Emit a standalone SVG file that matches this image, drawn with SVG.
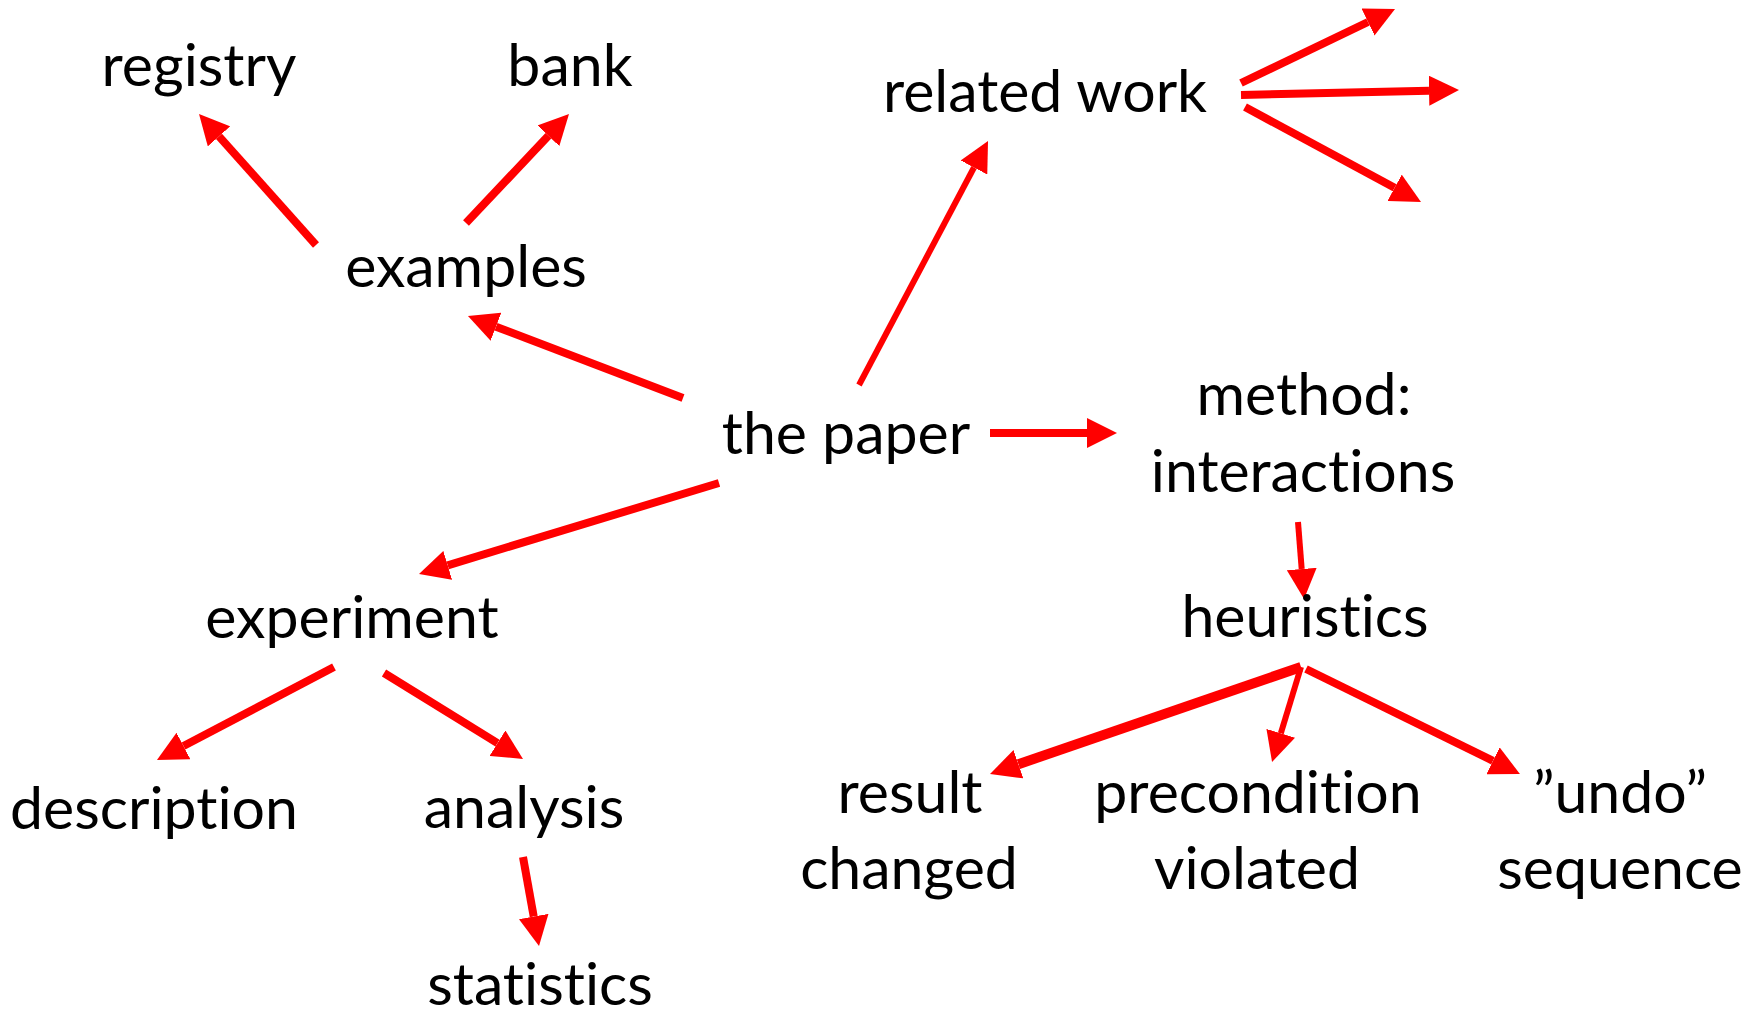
<svg xmlns="http://www.w3.org/2000/svg" width="1761" height="1018" viewBox="0 0 1761 1018">
  <style>
    .lbl { font-family: Lato, "Open Sans", "Liberation Sans", sans-serif; font-size: 59px; fill: #000; text-anchor: middle; font-variant-ligatures: none; font-feature-settings: "liga" 0, "clig" 0; }
    .edge { stroke: #ff0000; stroke-width: 8; fill: none; marker-end: url(#head); }
  </style>
  <defs>
    <marker id="head" viewBox="0 0 30 30" markerWidth="30" markerHeight="30" refX="0" refY="15" orient="auto" markerUnits="userSpaceOnUse">
      <path d="M0,0 L30,15 L0,30 Z" fill="#ff0000"/>
    </marker>
  </defs>
  <rect width="1761" height="1018" fill="#fff"/>

  <g id="connectors">
    <line class="edge" x1="316" y1="245" x2="219" y2="136.4"/>
    <line class="edge" x1="466" y1="223" x2="548.4" y2="135.8"/>
    <line class="edge" x1="683" y1="398" x2="496" y2="326.7"/>
    <line class="edge" x1="859" y1="385" x2="974" y2="167.5" style="stroke-width:6"/>
    <line class="edge" x1="1241" y1="83" x2="1368" y2="22"/>
    <line class="edge" x1="1241" y1="95" x2="1429" y2="90.7"/>
    <line class="edge" x1="1245" y1="107" x2="1394.6" y2="187.8"/>
    <line class="edge" x1="990" y1="433" x2="1087" y2="433"/>
    <line class="edge" x1="719" y1="483" x2="447.7" y2="565.3"/>
    <line class="edge" x1="334" y1="667" x2="183.5" y2="746"/>
    <line class="edge" x1="384" y1="673" x2="497.5" y2="743.2"/>
    <line class="edge" x1="523" y1="857" x2="533.7" y2="916.5"/>
    <line class="edge" x1="1298" y1="522" x2="1301.7" y2="569" style="stroke-width:6"/>
    <line class="edge" x1="1301" y1="667" x2="1018.4" y2="764.2" style="stroke-width:10"/>
    <line class="edge" x1="1301" y1="667" x2="1280.8" y2="733.3" style="stroke-width:6"/>
    <line class="edge" x1="1306" y1="669" x2="1493" y2="760.8"/>
  </g>

  <g id="registry"><text class="lbl" x="199" y="86">registry</text></g>
  <g id="bank"><text class="lbl" x="570" y="86">bank</text></g>
  <g id="examples"><text class="lbl" x="466" y="287">examples</text></g>
  <g id="related-work"><text class="lbl" x="1045" y="112">related work</text></g>
  <g id="the-paper"><text class="lbl" x="846" y="454">the paper</text></g>
  <g id="method"><text class="lbl" x="1304" y="415">method:</text><text class="lbl" x="1303" y="492">interactions</text></g>
  <g id="experiment"><text class="lbl" x="352" y="638">experiment</text></g>
  <g id="description"><text class="lbl" x="154" y="829">description</text></g>
  <g id="analysis"><text class="lbl" x="524" y="828">analysis</text></g>
  <g id="statistics"><text class="lbl" x="540" y="1005">statistics</text></g>
  <g id="heuristics"><text class="lbl" x="1305" y="637">heuristics</text></g>
  <g id="result-changed"><text class="lbl" x="910" y="813">result</text><text class="lbl" x="909" y="889">changed</text></g>
  <g id="precondition-violated"><text class="lbl" x="1258" y="813">precondition</text><text class="lbl" x="1257" y="889">violated</text></g>
  <g id="undo-sequence"><text class="lbl" x="1620" y="813">”undo”</text><text class="lbl" x="1620" y="889">sequence</text></g>
</svg>
